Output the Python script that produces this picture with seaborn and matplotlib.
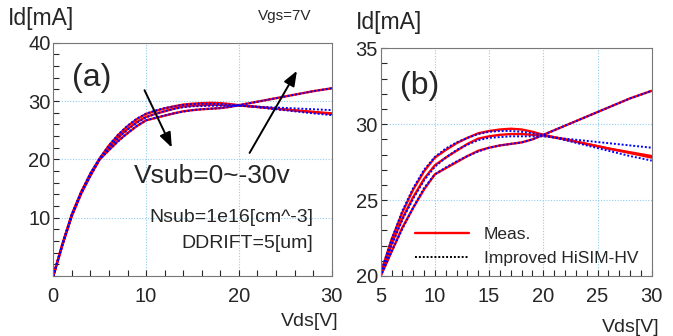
import numpy as np
import pandas as pd
import matplotlib
matplotlib.use("Agg")
import matplotlib.pyplot as plt
from matplotlib.ticker import MultipleLocator
from matplotlib.lines import Line2D
import seaborn as sns

# Data (Vgs=7V, three Vsub values)
vds = [0, 1, 2, 3, 4, 5, 6, 7, 8, 9, 10, 11, 12, 13, 14, 15, 16, 17, 18, 19, 20, 22, 24, 26, 28, 30]

meas_top = [0, 5.6, 10.6, 14.4, 17.6, 20.2, 22.4, 24.2, 25.7, 26.9, 27.8, 28.3, 28.75, 29.1, 29.4,
            29.55, 29.65, 29.7, 29.65, 29.5, 29.3, 29.0, 28.7, 28.4, 28.1, 27.8]
meas_mid = [0, 5.5, 10.5, 14.3, 17.4, 20.1, 22.1, 23.8, 25.2, 26.4, 27.3, 27.8, 28.25, 28.7, 29.05,
            29.2, 29.3, 29.35, 29.35, 29.3, 29.25, 29.0, 28.7, 28.4, 28.15, 27.9]
meas_bot = [0, 5.4, 10.3, 14.1, 17.2, 20.0, 21.6, 23.2, 24.5, 25.7, 26.7, 27.1, 27.5, 27.9, 28.25,
            28.45, 28.6, 28.7, 28.8, 29.0, 29.3, 29.9, 30.5, 31.1, 31.7, 32.2]

sim_top = [0, 5.6, 10.6, 14.4, 17.6, 20.2, 22.4, 24.3, 25.8, 27.0, 27.85, 28.4, 28.8, 29.1, 29.35,
           29.5, 29.55, 29.55, 29.5, 29.4, 29.3, 28.95, 28.6, 28.25, 27.9, 27.6]
sim_mid = [0, 5.5, 10.5, 14.3, 17.4, 20.1, 22.0, 23.7, 25.1, 26.3, 27.2, 27.8, 28.3, 28.65, 28.95,
           29.1, 29.15, 29.2, 29.2, 29.2, 29.2, 29.05, 28.9, 28.75, 28.6, 28.45]
sim_bot = [0, 5.4, 10.3, 14.1, 17.2, 20.0, 21.6, 23.1, 24.5, 25.8, 26.7, 27.15, 27.55, 27.9, 28.2,
           28.45, 28.6, 28.7, 28.8, 29.0, 29.3, 29.9, 30.5, 31.1, 31.7, 32.2]

meas_curves = [meas_top, meas_mid, meas_bot]
sim_curves = [sim_top, sim_mid, sim_bot]

sns.set_style("ticks")
plt.rcParams['font.family'] = ['Liberation Sans', 'DejaVu Sans']

fig = plt.figure(figsize=(6.73, 3.36), dpi=100)
ax_a = fig.add_axes([0.0792, 0.1786, 0.4137, 0.694])
ax_b = fig.add_axes([0.5657, 0.1786, 0.4027, 0.6777])

grid_color = "#8ecdf0"

for ax in (ax_a, ax_b):
    for y in meas_curves:
        sns.lineplot(x=vds, y=y, color="red", linewidth=1.7, ax=ax, legend=False)
    for y in sim_curves:
        sns.lineplot(x=vds, y=y, color="blue", linewidth=1.4, linestyle=(0, (1, 1)), ax=ax,
                     legend=False)
    ax.grid(True, which="major", color=grid_color, linestyle=(0, (1, 1.5)), linewidth=0.8)
    ax.tick_params(which="both", direction="in", length=4, width=0.8, labelsize=14.5,
                   top=False, right=False)
    ax.tick_params(axis="x", pad=8)
    ax.tick_params(axis="y", pad=2)
    for s in ax.spines.values():
        s.set_color("#777777")
        s.set_linewidth(0.8)
    ax.set_xlabel("")
    ax.set_ylabel("")

# panel (a)
ax_a.set_xlim(0, 30)
ax_a.set_ylim(0, 40)
ax_a.set_xticks([0, 10, 20, 30])
ax_a.set_yticks([10, 20, 30, 40])
ax_a.xaxis.set_minor_locator(MultipleLocator(2))
ax_a.yaxis.set_minor_locator(MultipleLocator(2))
ax_a.text(0.068, 0.85, "(a)", transform=ax_a.transAxes, fontsize=23, va="center")
ax_a.text(0.29, 0.43, "Vsub=0~-30v", transform=ax_a.transAxes, fontsize=19, va="center")
ax_a.text(0.935, 0.25, "Nsub=1e16[cm^-3]", transform=ax_a.transAxes, fontsize=14,
          ha="right", va="center")
ax_a.text(0.935, 0.14, "DDRIFT=5[um]", transform=ax_a.transAxes, fontsize=14,
          ha="right", va="center")
arrow = dict(arrowstyle="-|>,head_length=0.9,head_width=0.35", color="black", lw=1.4)
ax_a.annotate("", xy=(12.9, 21.6), xytext=(9.7, 32.3), arrowprops=arrow)
ax_a.annotate("", xy=(26.4, 35.6), xytext=(21.0, 20.7), arrowprops=arrow)

# panel (b)
ax_b.set_xlim(5, 30)
ax_b.set_ylim(20, 35)
ax_b.set_xticks([5, 10, 15, 20, 25, 30])
ax_b.set_yticks([20, 25, 30, 35])
ax_b.xaxis.set_minor_locator(MultipleLocator(1))
ax_b.yaxis.set_minor_locator(MultipleLocator(1))
ax_b.text(0.07, 0.835, "(b)", transform=ax_b.transAxes, fontsize=23, va="center")

handles = [Line2D([], [], color="red", linewidth=1.7),
           Line2D([], [], color="black", linewidth=1.4, linestyle=(0, (1, 1)))]
ax_b.legend(handles, ["Meas.", "Improved HiSIM-HV"], loc="lower left",
            bbox_to_anchor=(0.07, -0.025), frameon=False, fontsize=12.5,
            handlelength=3.1, handletextpad=0.85, labelspacing=0.5)

fig.text(8 / 673, 1 - 18 / 336, "Id[mA]", fontsize=16.5, va="center", ha="left")
fig.text(285 / 673, 1 - 16 / 336, "Vgs=7V", fontsize=11, va="center", ha="center")
fig.text(339 / 673, 1 - 322 / 336, "Vds[V]", fontsize=14, va="center", ha="right")
fig.text(356 / 673, 1 - 22 / 336, "Id[mA]", fontsize=16.5, va="center", ha="left")
fig.text(660 / 673, 1 - 327 / 336, "Vds[V]", fontsize=14, va="center", ha="right")

fig.savefig("out.png", dpi=100)
